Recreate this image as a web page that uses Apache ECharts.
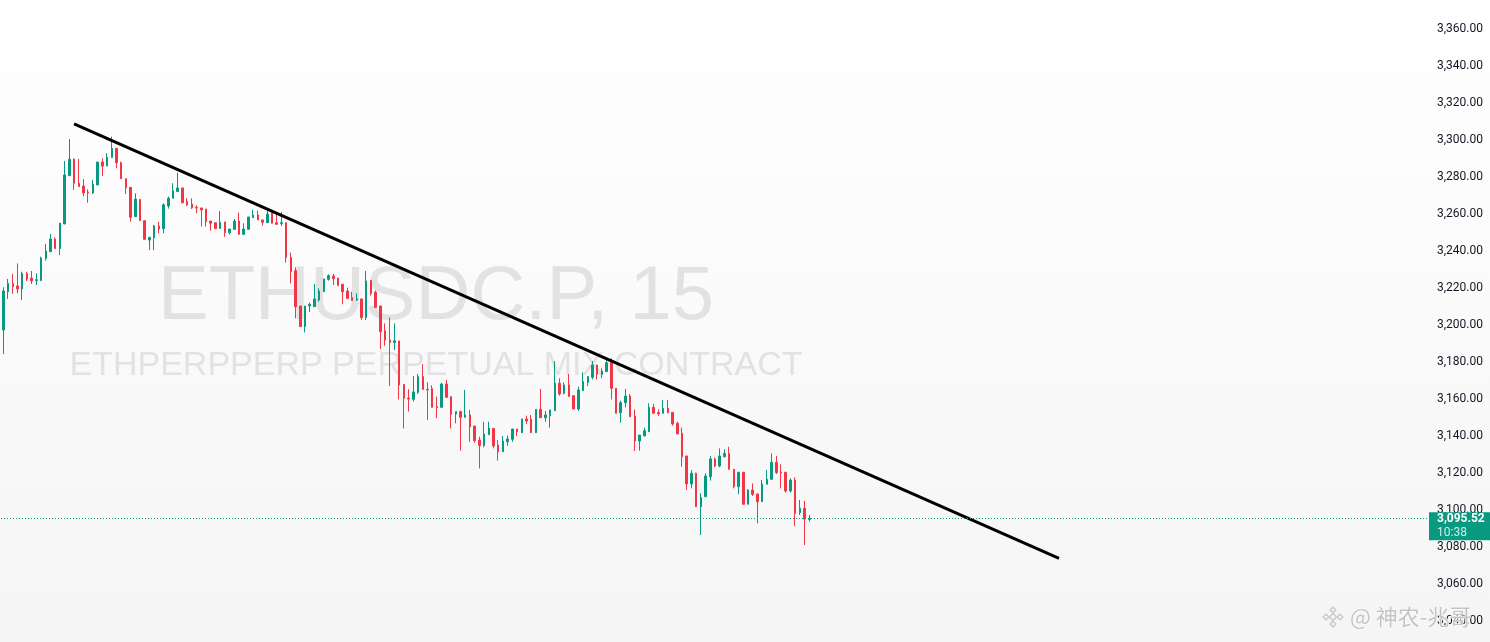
<!DOCTYPE html>
<html><head><meta charset="utf-8">
<script src="https://cdn.jsdelivr.net/npm/echarts@6/dist/echarts.min.js"></script>
<style>html,body{margin:0;padding:0;background:#fff}#c{width:1490px;height:642px}</style>
</head><body><div id="c"></div>
<script>
// ---- data (ETHUSDC.P 15m candles) ----
const open = [3197.3,3218.0,3222.5,3221.1,3219.5,3227.9,3225.4,3224.0,3224.0,3236.0,
3239.6,3246.5,3241.3,3254.6,3280.7,3289.6,3276.6,3275.1,3271.9,3271.4,
3275.7,3288.1,3285.9,3290.5,3295.5,3287.7,3279.1,3274.4,3258.6,3267.9,
3256.4,3245.9,3247.2,3253.5,3252.1,3264.3,3268.5,3272.1,3274.1,3266.8,
3265.4,3263.6,3263.2,3262.7,3256.2,3255.3,3252.1,3255.7,3249.9,3251.7,
3256.2,3249.0,3251.7,3258.0,3259.5,3256.8,3255.3,3260.7,3255.3,3254.8,
3255.3,3236.6,3229.4,3210.3,3199.1,3210.3,3209.9,3213.5,3218.0,3224.7,
3226.5,3225.4,3222.0,3218.4,3214.8,3213.5,3214.1,3204.0,3224.1,3217.7,
3210.3,3196.9,3191.9,3190.5,3191.4,3167.9,3160.5,3159.8,3163.6,3172.1,
3165.2,3165.6,3155.9,3155.5,3168.1,3161.3,3151.9,3153.2,3150.1,3151.4,
3145.4,3137.8,3134.8,3140.7,3144.1,3135.1,3131.5,3136.9,3138.2,3143.8,
3141.8,3149.2,3149.0,3141.8,3154.4,3149.9,3151.0,3153.7,3168.5,3163.1,
3167.6,3161.8,3154.6,3164.5,3169.0,3171.7,3178.4,3173.3,3174.8,3180.2,
3165.8,3152.6,3158.0,3161.6,3150.8,3137.3,3140.0,3142.3,3155.5,3152.6,
3152.3,3155.0,3152.8,3146.9,3141.5,3129.2,3114.1,3119.8,3101.8,3107.2,
3118.0,3127.6,3123.8,3128.8,3130.6,3122.0,3112.6,3120.4,3103.1,3110.8,
3108.6,3104.5,3113.9,3116.6,3125.8,3120.5,3120.4,3110.3,3116.2,3098.6,
3100.9,3094.9];
const close = [3218.4,3222.5,3220.7,3219.5,3227.9,3224.9,3223.8,3224.5,3236.2,3240.0,
3246.5,3241.3,3255.1,3281.1,3289.6,3276.6,3274.8,3271.4,3271.4,3276.2,
3288.1,3285.9,3290.6,3295.5,3287.7,3279.1,3274.2,3258.2,3268.1,3256.4,
3246.3,3247.4,3253.5,3251.9,3265.0,3268.5,3272.6,3274.1,3266.1,3264.9,
3263.4,3263.2,3262.2,3255.9,3255.0,3252.1,3255.5,3249.9,3251.9,3256.2,
3249.0,3251.9,3258.4,3259.5,3256.8,3255.5,3260.0,3255.0,3254.4,3255.3,
3236.4,3228.8,3209.9,3199.1,3210.3,3211.2,3214.1,3218.4,3224.9,3226.7,
3225.0,3221.3,3218.0,3214.4,3213.2,3214.1,3204.0,3223.8,3217.1,3209.5,
3196.4,3191.9,3190.5,3191.5,3167.6,3160.4,3160.0,3163.8,3172.1,3165.2,
3164.9,3155.5,3155.3,3168.1,3160.9,3151.7,3153.2,3150.1,3151.4,3145.0,
3137.5,3134.8,3141.1,3144.3,3134.6,3131.5,3137.3,3138.4,3143.8,3142.3,
3149.2,3148.1,3141.8,3154.4,3149.9,3151.4,3154.1,3168.5,3162.7,3167.6,
3161.3,3154.6,3164.9,3169.4,3172.1,3178.4,3173.3,3175.1,3179.6,3165.8,
3152.3,3158.0,3161.6,3150.4,3137.3,3140.5,3142.9,3155.5,3152.3,3151.9,
3155.0,3152.6,3146.5,3141.1,3128.8,3114.1,3119.8,3101.8,3106.8,3118.4,
3127.6,3123.8,3129.2,3130.6,3122.0,3112.6,3120.4,3103.1,3110.8,3108.5,
3104.5,3114.1,3116.6,3125.8,3120.2,3120.0,3110.3,3116.2,3098.2,3100.9,
3095.1,3095.52];
const low = [3184.3,3214.1,3216.8,3217.1,3213.5,3223.8,3222.2,3221.6,3224.0,3234.8,
3239.6,3241.3,3237.8,3254.6,3280.7,3273.0,3274.8,3269.6,3266.1,3270.8,
3275.7,3280.5,3285.9,3290.5,3284.7,3279.1,3270.8,3255.8,3258.6,3256.4,
3246.3,3240.5,3240.5,3249.6,3249.6,3262.9,3268.5,3272.1,3265.8,3264.3,
3262.7,3260.4,3253.2,3253.2,3251.0,3252.1,3252.1,3247.7,3249.0,3251.7,
3249.0,3249.0,3251.7,3258.0,3256.8,3253.7,3255.3,3255.0,3254.4,3253.5,
3233.7,3222.5,3203.6,3199.1,3196.0,3207.0,3209.9,3212.6,3218.0,3224.0,
3221.6,3221.3,3211.2,3214.4,3213.2,3213.2,3202.7,3202.7,3215.9,3209.5,
3187.0,3188.8,3167.0,3186.5,3159.8,3144.1,3153.2,3158.6,3162.7,3165.2,
3148.6,3155.5,3149.6,3155.5,3160.9,3144.1,3146.9,3132.1,3150.1,3136.9,
3136.4,3122.5,3133.9,3140.7,3133.3,3126.7,3131.5,3134.8,3136.9,3140.0,
3141.8,3146.5,3141.8,3141.8,3149.9,3147.7,3144.5,3153.7,3161.8,3162.5,
3161.3,3154.6,3153.5,3164.5,3167.0,3170.6,3170.6,3171.2,3174.8,3159.8,
3152.3,3147.2,3155.5,3150.4,3131.9,3132.1,3140.0,3142.3,3152.3,3150.8,
3152.3,3152.3,3145.6,3141.1,3123.4,3110.8,3111.7,3101.8,3086.5,3107.2,
3115.9,3123.1,3123.1,3128.5,3122.0,3111.7,3108.6,3103.1,3103.1,3107.6,
3092.8,3104.5,3113.9,3116.6,3119.5,3111.7,3109.4,3109.4,3091.4,3097.3,
3081.1,3093.7];
const high = [3220.4,3224.9,3227.6,3233.3,3228.8,3228.8,3229.2,3227.9,3236.9,3243.8,
3249.2,3247.4,3255.1,3288.6,3300.5,3290.1,3289.8,3278.9,3273.3,3278.4,
3288.1,3290.1,3292.8,3301.8,3295.5,3288.3,3279.1,3274.4,3271.2,3267.9,
3256.4,3247.4,3254.1,3255.8,3265.8,3269.4,3276.6,3282.3,3274.1,3268.5,
3268.5,3264.7,3263.6,3262.7,3256.2,3255.3,3261.6,3255.7,3251.9,3257.3,
3260.7,3255.0,3258.4,3262.2,3261.8,3256.8,3262.2,3261.6,3260.4,3261.1,
3255.3,3239.1,3231.2,3210.3,3210.3,3212.1,3222.2,3219.8,3224.9,3227.4,
3227.6,3225.4,3222.0,3220.2,3218.0,3217.1,3214.1,3229.2,3224.1,3218.6,
3210.3,3200.9,3204.1,3200.9,3191.4,3167.9,3165.2,3172.4,3173.5,3178.9,
3169.0,3167.4,3161.3,3168.8,3170.3,3161.3,3153.2,3153.7,3164.9,3154.1,
3145.4,3139.6,3147.7,3147.7,3144.1,3137.8,3140.0,3140.2,3143.8,3143.8,
3149.2,3151.0,3151.4,3154.4,3165.4,3153.5,3154.1,3180.5,3171.2,3169.0,
3173.5,3161.8,3166.7,3174.4,3172.4,3180.5,3178.4,3176.6,3182.0,3182.0,
3165.8,3159.1,3165.4,3162.7,3154.4,3140.5,3144.5,3157.7,3157.3,3154.4,
3159.5,3159.5,3152.8,3147.7,3144.5,3129.2,3121.6,3120.2,3109.0,3119.8,
3129.2,3128.3,3133.3,3132.8,3134.2,3122.0,3120.4,3120.4,3111.2,3114.4,
3109.0,3116.2,3121.6,3130.6,3129.2,3124.7,3120.4,3117.1,3117.7,3105.4,
3104.9,3097.3];
const slotCount = 303;                       // visible bar slots incl. empty future space
const categories = Array.from({length: slotCount}, (_, i) => String(i));
const trendStart = [15, 3308.7];
const trendEnd = [224, 3073.8];
const yMin = 3020, yMax = 3380, yStep = 20;
const titleMain = 'ETHUSDC.P, 15';
const titleSub = 'ETHPERPPERP PERPETUAL MIX CONTRACT';
const countdown = '10:38';
const signature = '@ 神农-兆哥';

const UP = '#089981', DOWN = '#F23645';
const lastPrice = close[close.length - 1];
const candles = open.map((o, i) => [o, close[i], low[i], high[i]]);

function fmt(v) {
  const s = v.toFixed(2);
  const [a, b] = s.split('.');
  return a.replace(/\B(?=(\d{3})+(?!\d))/g, ',') + '.' + b;
}

const chart = echarts.init(document.getElementById('c'), null, {renderer: 'canvas'});
const GRID = {left: 1, right: 61, top: -8, bottom: -16, outerBoundsMode: 'none', containLabel: false};

function logo(cx, cy) {
  const col = '#cccccc';
  const d = (x, y, s) => ({type: 'rect', x: x, y: y, rotation: Math.PI / 4,
    shape: {x: -s / 2, y: -s / 2, width: s, height: s},
    style: {fill: 'none', stroke: col, lineWidth: 1.5}, silent: true});
  return [d(cx, cy, 5), d(cx, cy - 7, 4), d(cx, cy + 7, 4), d(cx - 7, cy, 4), d(cx + 7, cy, 4)];
}

const baseGraphic = [
  {id: 'wm1', type: 'text', z: 0, silent: true, x: 436, y: 298,
    style: {text: titleMain, font: '76px "Liberation Sans"', fill: '#e2e2e2', textAlign: 'center', textVerticalAlign: 'middle'}},
  {id: 'wm2', type: 'text', z: 0, silent: true, x: 436, y: 366,
    style: {text: titleSub, font: '34px "Liberation Sans"', fill: '#e2e2e2', textAlign: 'center', textVerticalAlign: 'middle'}},
  {id: 'logo', type: 'group', z: 100, silent: true, children: logo(1333, 617)},
  {id: 'sig', type: 'text', z: 100, silent: true, x: 1350, y: 617,
    style: {text: signature, font: '22px "Noto Sans CJK SC"', fill: '#c4c4c4', stroke: '#ffffff', lineWidth: 1, textVerticalAlign: 'middle'}}
];

const option = {
  animation: false,
  backgroundColor: {type: 'linear', x: 0, y: 0, x2: 0, y2: 1,
    colorStops: [{offset: 0, color: '#ffffff'}, {offset: 1, color: '#f5f5f5'}]},
  grid: GRID,
  xAxis: {type: 'category', data: categories, boundaryGap: true, show: false},
  yAxis: {
    type: 'value', position: 'right', min: yMin, max: yMax, interval: yStep,
    axisLine: {show: false}, axisTick: {show: false}, splitLine: {show: false},
    axisLabel: {color: '#131722', fontSize: 12, fontFamily: 'Roboto', margin: 8, formatter: fmt}
  },
  graphic: baseGraphic,
  series: [
    {
      type: 'candlestick', data: candles, barWidth: 2, z: 3,
      itemStyle: {color: UP, color0: DOWN, borderColor: UP, borderColor0: DOWN, borderWidth: 1},
      markLine: {
        silent: true, symbol: ['none', 'none'],
        lineStyle: {color: UP, type: [1, 2], width: 1},
        label: {show: false},
        data: [{yAxis: lastPrice}]
      }
    },
    {
      type: 'line', z: 4, silent: true, symbol: 'none',
      data: [trendStart, trendEnd],
      lineStyle: {color: '#000000', width: 3}
    }
  ]
};
chart.setOption(option);

// price tag on the axis, positioned from the y scale
const py = chart.convertToPixel({yAxisIndex: 0}, lastPrice);
const tagX = 1490 - GRID.right;
chart.setOption({
  graphic: baseGraphic.concat([
    {id: 'tagBg', type: 'rect', z: 110, silent: true, x: tagX, y: py - 6,
      shape: {width: 61, height: 28}, style: {fill: UP}},
    {id: 'tagPrice', type: 'text', z: 111, silent: true, x: tagX + 8, y: py + 1,
      style: {text: fmt(lastPrice), font: 'bold 12px Roboto', fill: '#ffffff', textVerticalAlign: 'middle'}},
    {id: 'tagTime', type: 'text', z: 111, silent: true, x: tagX + 8, y: py + 15,
      style: {text: countdown, font: '12px Roboto', fill: 'rgba(255,255,255,0.82)', textVerticalAlign: 'middle'}}
  ])
});
</script>
</body></html>
